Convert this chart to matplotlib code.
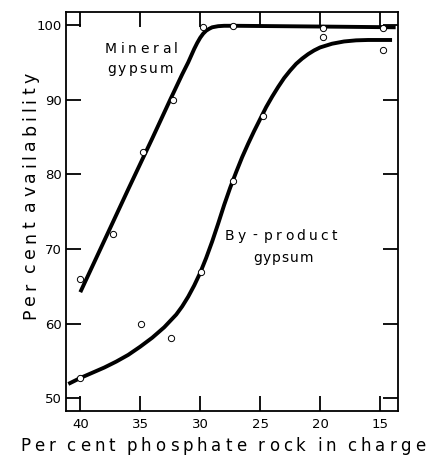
import matplotlib
matplotlib.use("Agg")
import matplotlib.pyplot as plt

# --------------------- data ---------------------
# measured points (open circles)
mineral_x = [40.0, 37.3, 34.8, 32.3, 29.8, 27.25, 19.75, 14.75]
mineral_y = [66.0, 72.0, 83.0, 90.0, 99.8, 99.9, 99.6, 99.6]

byprod_x = [40.0, 34.9, 32.4, 29.9, 27.3, 24.75, 19.75, 14.75]
byprod_y = [52.7, 60.0, 58.0, 66.9, 79.1, 87.8, 98.4, 96.6]

# hand-drawn smooth curves through the points
mineral_curve_x = [40.0, 38.0, 36.0, 34.0, 32.5, 31.5, 31.0, 30.75, 30.5, 30.25, 30.0, 29.75,
                   29.5, 29.25, 29.0, 28.5, 28.0, 27.0, 20.0, 13.7]
mineral_curve_y = [64.2, 71.1, 78.0, 84.8, 90.0, 93.4, 95.0, 95.9, 96.8, 97.6, 98.3, 98.85,
                   99.25, 99.5, 99.7, 99.85, 99.9, 99.9, 99.8, 99.7]

byprod_curve_x = [41.0, 40.0, 39.0, 38.0, 37.0, 36.0, 35.0, 34.0, 33.0, 32.0, 31.5, 31.0,
                  30.5, 30.0, 29.5, 29.0, 28.5, 28.0, 27.5, 27.0, 26.5, 26.0, 25.5, 25.0,
                  24.5, 24.0, 23.5, 23.0, 22.5, 22.0, 21.5, 21.0, 20.5, 20.0, 19.0, 18.0,
                  17.0, 16.0, 14.0]
byprod_curve_y = [51.9, 52.7, 53.4, 54.1, 54.9, 55.8, 56.9, 58.1, 59.5, 61.2, 62.3, 63.6,
                  65.1, 66.8, 68.8, 71.0, 73.4, 75.9, 78.2, 80.3, 82.3, 84.1, 85.8, 87.4,
                  89.0, 90.4, 91.7, 92.9, 93.9, 94.8, 95.5, 96.1, 96.6, 97.0, 97.5, 97.8,
                  97.95, 98.0, 98.0]

x_ticks = [40, 35, 30, 25, 20, 15]
y_ticks = [50, 60, 70, 80, 90, 100]

# --------------------- plot ---------------------
plt.rcParams["font.family"] = "DejaVu Sans"

W, H = 428, 458
fig = plt.figure(figsize=(W / 100, H / 100), dpi=100)
ax = fig.add_axes([0.154, 0.103, 0.776, 0.870])


def px(x, y):
    # pixel position from top-left -> figure fraction
    return x / W, 1 - y / H


def tracked(x0, y0, s, span, size, vertical=False, k=2.8):
    # letter-spaced lettering, stretched to cover `span` pixels
    r = fig.canvas.get_renderer()
    widths = {}
    for ch in set(s.replace(" ", "")):
        t = fig.text(0, 0, ch, fontsize=size)
        widths[ch] = t.get_window_extent(r).width
        t.remove()
    ink = sum(widths[c] for c in s if c != " ")
    n_sp = s.count(" ")
    n_gap = len(s) - 1 - 2 * n_sp
    gap = (span - ink) / (n_gap + k * n_sp)
    pos = 0.0
    for ch in s:
        if ch == " ":
            pos += (k - 1) * gap
            continue
        if vertical:
            fig.text(*px(x0, y0 - pos), ch, fontsize=size, rotation=90,
                     rotation_mode="anchor", ha="left", va="baseline")
        else:
            fig.text(*px(x0 + pos, y0), ch, fontsize=size, ha="left", va="baseline")
        pos += widths[ch] + gap


ax.plot(mineral_curve_x, mineral_curve_y, color="black", lw=2.8, solid_capstyle="butt",
        solid_joinstyle="round", zorder=2)
ax.plot(byprod_curve_x, byprod_curve_y, color="black", lw=2.8, solid_capstyle="butt",
        solid_joinstyle="round", zorder=2)

ax.plot(mineral_x, mineral_y, "o", ms=4.5, mfc="white", mec="black", mew=0.7, zorder=3)
ax.plot(byprod_x, byprod_y, "o", ms=4.5, mfc="white", mec="black", mew=0.7, zorder=3)

ax.set_xlim(41.2, 13.5)
ax.set_ylim(48.3, 101.7)
ax.set_xticks(x_ticks)
ax.set_yticks(y_ticks)

ax.tick_params(direction="in", length=11, width=1.3, top=True, right=True,
               labelsize=9.5, color="black")
ax.tick_params(axis="x", pad=5)
ax.tick_params(axis="y", pad=3)
for s in ax.spines.values():
    s.set_linewidth(1.3)

# curve labels
tracked(105, 53, "Mineral", 73, 10)
tracked(107, 73, "gypsum", 66, 10)
tracked(225, 240, "By - product", 112, 10, k=2.0)
tracked(253, 262, "gypsum", 60, 10)

# axis titles
tracked(20, 451, "Per cent phosphate rock in charge", 405, 12)
tracked(35, 319, "Per cent availability", 246, 12.5, vertical=True)

fig.savefig("out.png", dpi=100)
